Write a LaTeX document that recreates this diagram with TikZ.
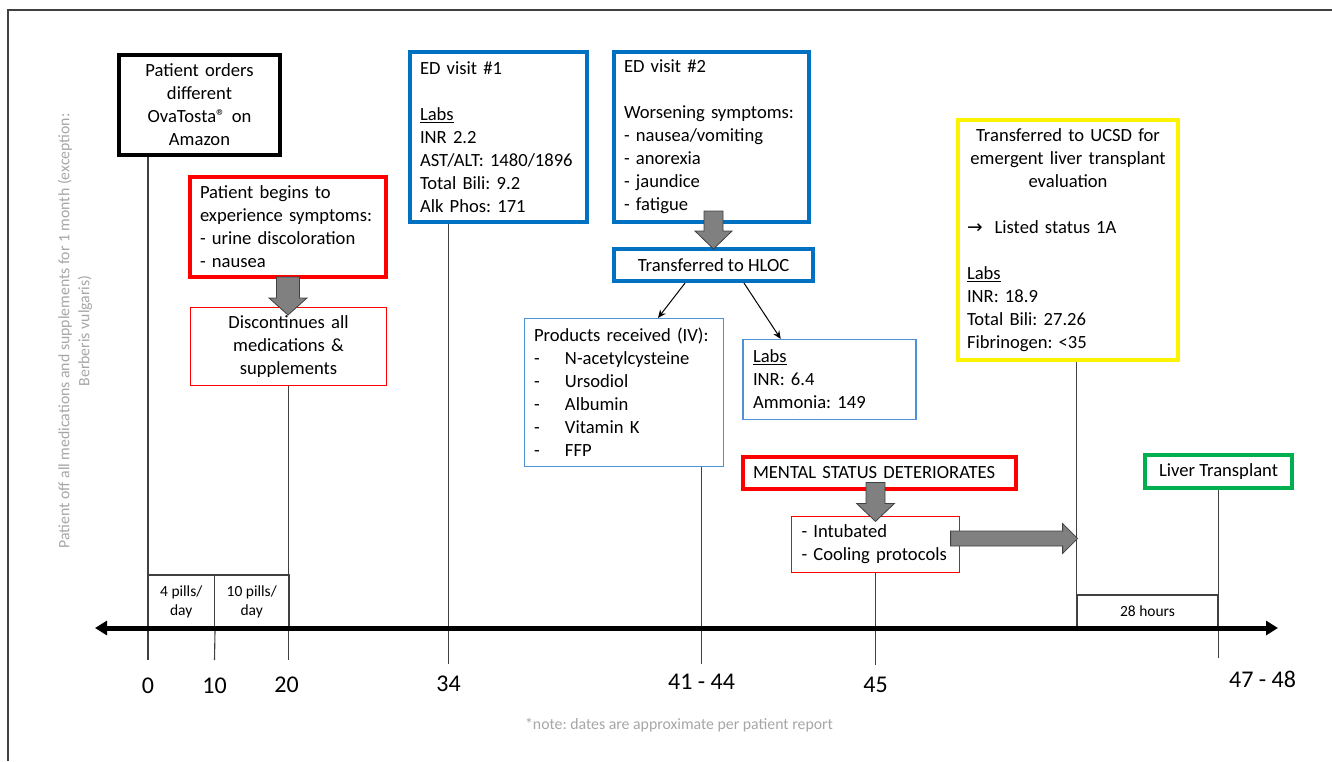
\documentclass[tikz,border=0pt]{standalone}
\usepackage{fontspec}
\setmainfont{Carlito}
\newfontfamily\symfont{DejaVu Sans}
\frenchspacing
\usetikzlibrary{arrows.meta,calc}

\definecolor{edblue}{RGB}{0,112,192}
\definecolor{thinblue}{RGB}{79,145,215}
\definecolor{txgreen}{RGB}{0,176,80}
\definecolor{notegray}{RGB}{166,166,166}
\definecolor{linegray}{RGB}{64,64,64}
\definecolor{arrowgray}{RGB}{128,128,128}

\newcommand{\mainsize}{\fontsize{18.6}{23}\selectfont}
\newcommand{\ticksize}{\fontsize{24}{28}\selectfont}
\newcommand{\smallsize}{\fontsize{15.5}{19}\selectfont}
\newcommand{\notesize}{\fontsize{15.8}{20}\selectfont}
\newcommand{\dashitem}{\makebox[31pt][l]{-}}

\tikzset{
  % framed event boxes
  bigbox/.style={draw=#1, line width=4pt, inner xsep=10pt, inner ysep=0pt, font=\mainsize},
  smallbox/.style={draw=#1, line width=1.2pt, inner xsep=10pt, inner ysep=0pt, font=\mainsize},
  pillbox/.style={draw=linegray, line width=1.1pt, align=center, font=\smallsize, inner sep=0pt},
  % time lines and arrows
  tline/.style={draw=linegray, line width=1.1pt},
  blockarrow/.style={draw=linegray, fill=arrowgray, line width=0.8pt},
  thinarrow/.style={draw=black, line width=1pt, -{Stealth[length=8pt,width=7pt]}},
  ticklabel/.style={anchor=base, font=\ticksize},
}

\begin{document}
\begin{tikzpicture}[x=1pt,y=-1pt]
\useasboundingbox (0,0) rectangle (1332,761);
\draw[linegray, line width=1.5pt] (8,761) -- (8,10) -- (1332,10);

% boxes
\node[bigbox=black, minimum width=161pt, minimum height=100pt, text width=149pt, inner xsep=6pt, align=center] (order) at (199.5,105) {Patient orders\\ different\\ OvaTosta® on\\ Amazon};
\node[bigbox=red, minimum width=196pt, minimum height=100pt, text width=176pt, align=left] (symp) at (288,227) {Patient begins to\\ experience symptoms:\\ - urine discoloration\\ - nausea};
\node[smallbox=red, minimum width=196pt, minimum height=78pt, text width=176pt, align=center] (disc) at (288.5,346.5) {Discontinues all\\ medications \&\\ supplements};
\node[bigbox=edblue, minimum width=177pt, minimum height=170pt, text width=157pt, align=left] (ed1) at (498.5,137) {ED visit \#1\\[23pt] \underline{Labs}\\ INR 2.2\\ AST/ALT: 1480/1896\\ Total Bili: 9.2\\ Alk Phos: 171};
\node[bigbox=edblue, minimum width=195pt, minimum height=170pt, text width=175pt, align=left] (ed2) at (711.5,137) {ED visit \#2\\[23pt] Worsening symptoms:\\ - nausea/vomiting\\ - anorexia\\ - jaundice\\ - fatigue};
\node[bigbox=edblue, minimum width=199pt, minimum height=32pt, align=center] (hloc) at (713.5,265) {Transferred to HLOC};
\node[smallbox=thinblue, minimum width=199pt, minimum height=148pt, text width=180pt, inner xsep=9.5pt, align=left] (prod) at (624,392.5) {Products received (IV):\\ \dashitem N-acetylcysteine\\ \dashitem Ursodiol\\ \dashitem Albumin\\ \dashitem Vitamin K\\ \dashitem FFP};
\node[smallbox=thinblue, minimum width=173pt, minimum height=80pt, text width=153pt, align=left] (labs) at (829.5,379.5) {\underline{Labs}\\ INR: 6.4\\ Ammonia: 149};
\node[bigbox=red, minimum width=273pt, minimum height=32pt, text width=253pt, align=left] (mental) at (879.5,473) {MENTAL STATUS DETERIORATES};
\node[smallbox=red, minimum width=168pt, minimum height=56pt, text width=148pt, align=left] (intub) at (875.5,544.5) {- Intubated\\ - Cooling protocols};
\node[bigbox=yellow, minimum width=220pt, minimum height=240pt, text width=202pt, inner xsep=9pt] (ucsd) at (1068,240) {{\centering Transferred to UCSD for\\ emergent liver transplant\\ evaluation\par}\vspace{23pt}{\raggedright {\symfont →}\hspace{12pt}Listed status 1A\\[23pt] \underline{Labs}\\ INR: 18.9\\ Total Bili: 27.26\\ Fibrinogen: <35\par}};
\node[bigbox=txgreen, minimum width=147pt, minimum height=33pt, align=center] (liver) at (1218.5,471.5) {Liver Transplant};

% dose and duration boxes
\node[pillbox, minimum width=66.5pt, minimum height=53pt] (p4) at (181.25,601.5) {4 pills/\\ day};
\node[pillbox, minimum width=74.5pt, minimum height=53pt] (p10) at (251.75,601.5) {10 pills/\\ day};
\node[pillbox, minimum width=141pt, minimum height=33pt] (hrs) at (1147.5,611.5) {28 hours};

% time points
\coordinate (t0) at (148,660);
\coordinate (t10) at (214.5,660);
\coordinate (t20) at (288.5,660);
\coordinate (t34) at (448.5,664);
\coordinate (t41) at (701.5,664);
\coordinate (t45) at (875.5,665);
\coordinate (t47) at (1218.5,658);
\coordinate (axl) at (95,628);
\coordinate (axr) at (1278,628);

\draw[tline] (order.south -| t0) -- (t0);
\draw[tline] (p4.south east) -- (t10);
\draw[tline] (disc.south) -- (t20);
\draw[tline] (ed1.south -| t34) -- (t34);
\draw[tline] (prod.south -| t41) -- (t41);
\draw[tline] (intub.south) -- (t45);
\draw[tline] (liver.south) -- (t47);
\draw[tline] (ucsd.south -| hrs.south west) -- (hrs.south west);

\draw[line width=5pt, {Triangle[length=12pt,width=14pt]}-{Triangle[length=12pt,width=14pt]}] (axl) -- (axr);

% block arrows
\draw[blockarrow, shift={(symp.south)}] (-11.5,-2) -- (11.5,-2) -- (11.5,19) -- (19,19) -- (0,36) -- (-19,19) -- (-11.5,19) -- cycle;
\draw[blockarrow, shift={(hloc.north)}] (-9.5,-36) -- (9.5,-36) -- (9.5,-16) -- (18.5,-16) -- (0,2) -- (-18.5,-16) -- (-9.5,-16) -- cycle;
\draw[blockarrow, shift={(intub.north)}] (-9.5,-33.5) -- (9.5,-33.5) -- (9.5,-12.5) -- (19,-12.5) -- (0,5.5) -- (-19,-12.5) -- (-9.5,-12.5) -- cycle;
\draw[blockarrow, shift={(intub.east)}] (-9.5,-13.5) -- (102.5,-13.5) -- (102.5,-21) -- (117.5,-6) -- (102.5,9) -- (102.5,1.5) -- (-9.5,1.5) -- cycle;

\draw[thinarrow] ($(hloc.south west)!0.36!(hloc.south east)$) -- ($(prod.north west)!0.67!(prod.north east)$);
\draw[thinarrow] ($(hloc.south west)!0.65!(hloc.south east)$) -- ($(labs.north west)!0.22!(labs.north east)$);

% day labels
\node[ticklabel] (l0) at ($(t0)+(0,33)$) {0};
\node[ticklabel] (l10) at ($(t10)+(0,33)$) {10};
\node[ticklabel] (l20) at ($(t20)+(-2,32)$) {20};
\node[ticklabel] (l34) at ($(t34)+(0,27)$) {34};
\node[ticklabel] (l41) at ($(t41)+(0,25)$) {41 - 44};
\node[ticklabel] (l45) at ($(t45)+(0,27)$) {45};
\node[ticklabel] (l47) at ($(t47)+(44,29)$) {47 - 48};

\node[rotate=90, align=center, text=notegray, font=\notesize] (offmeds) at (75,331) {Patient off all medications and supplements for 1 month (exception:\\ Berberis vulgaris)};
\node[text=notegray, font=\notesize] (note) at (679,725) {*note: dates are approximate per patient report};
\end{tikzpicture}
\end{document}
